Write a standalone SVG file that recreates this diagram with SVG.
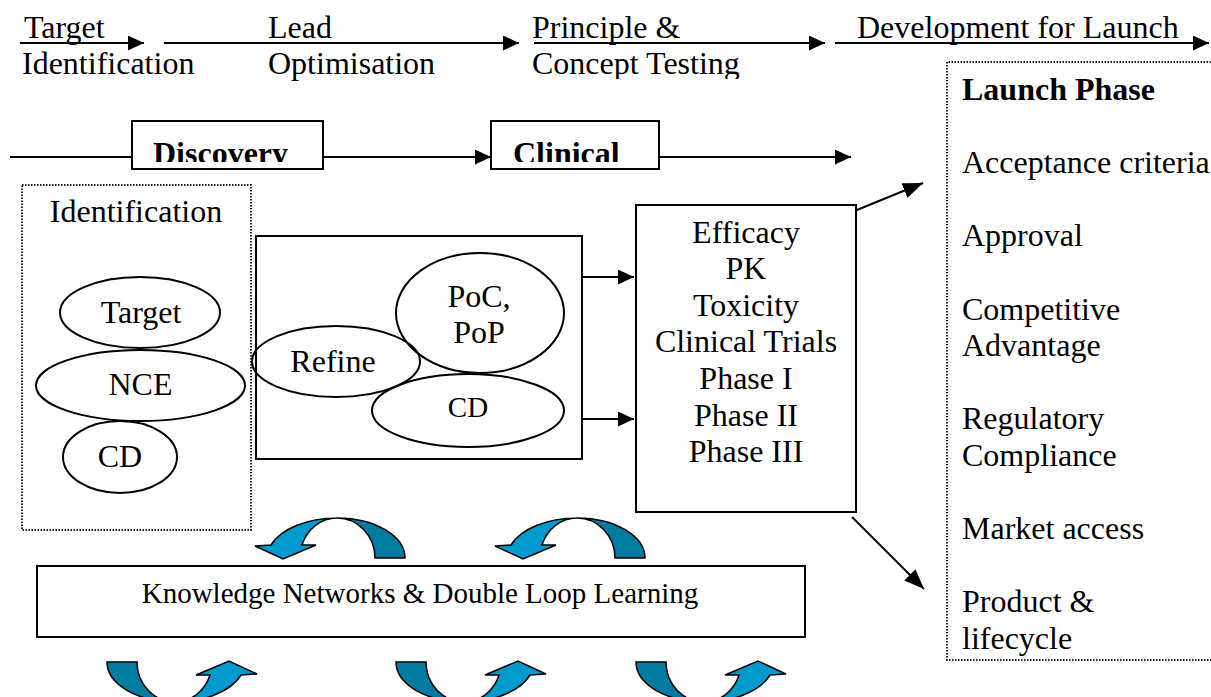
<svg xmlns="http://www.w3.org/2000/svg" xmlns:xlink="http://www.w3.org/1999/xlink" width="1211" height="697" viewBox="0 0 1211 697">
<style>
text{font-family:"Liberation Serif","Times New Roman",serif;fill:#000}
.t32{font-size:32px}
.t29{font-size:29px}
.b{font-weight:bold}
.mid{text-anchor:middle}
.box{fill:#fff;stroke:#000;stroke-width:2}
.dot{fill:none;stroke:#222;stroke-width:2;stroke-dasharray:1.5 1.5}
.ell{fill:none;stroke:#000;stroke-width:2}
.ln{fill:none;stroke:#000;stroke-width:2}
.dark{fill:#007ba0;stroke:#000;stroke-width:1.5}
.light{fill:#0099cc;stroke:#000;stroke-width:1.5}
</style>
<defs>
<marker id="ah" viewBox="0 0 16 15" refX="16" refY="7.5" markerWidth="16" markerHeight="15" markerUnits="userSpaceOnUse" orient="auto"><path d="M0,0 L16,7.5 L0,15 Z" fill="#000"/></marker>
<marker id="ah2" viewBox="0 0 20 16" refX="20" refY="8" markerWidth="20" markerHeight="16" markerUnits="userSpaceOnUse" orient="auto"><path d="M0,0 L20,8 L0,16 Z" fill="#000"/></marker>
<clipPath id="clipTop"><rect x="0" y="0" width="1211" height="79"/></clipPath>
<clipPath id="clipRow"><rect x="0" y="0" width="1211" height="162"/></clipPath>
<g id="carrow">
<path class="dark" d="M68,0 A68 40 0 0 0 0,-40 A38 40 0 0 1 38,0 Z"/>
<path class="light" d="M0,-40 A70 40 0 0 0 -66,-13 L-82,-12 L-54,1 L-21,-13 L-35,-13 A37 40 0 0 1 0,-40 Z"/>
</g>
</defs>

<g id="connectors">
<line class="ln" x1="20" y1="43" x2="144" y2="43" marker-end="url(#ah)"/>
<line class="ln" x1="164" y1="43" x2="519" y2="43" marker-end="url(#ah)"/>
<line class="ln" x1="534" y1="43" x2="825" y2="43" marker-end="url(#ah)"/>
<line class="ln" x1="835" y1="43" x2="1209" y2="43" marker-end="url(#ah)"/>
<line class="ln" x1="10" y1="157" x2="132" y2="157"/>
<line class="ln" x1="323" y1="157" x2="491" y2="157" marker-end="url(#ah)"/>
<line class="ln" x1="659" y1="157" x2="851" y2="157" marker-end="url(#ah)"/>
<line class="ln" x1="582" y1="277" x2="634" y2="277" marker-end="url(#ah)"/>
<line class="ln" x1="582" y1="419" x2="634" y2="419" marker-end="url(#ah)"/>
<line class="ln" x1="852" y1="212" x2="923" y2="183" marker-end="url(#ah2)"/>
<line class="ln" x1="852" y1="517" x2="924" y2="589" marker-end="url(#ah2)"/>
</g>

<g id="stage-labels">
<text class="t32" x="24" y="38">Target</text>
<text class="t32" x="22" y="74">Identification</text>
<text class="t32" x="268" y="38">Lead</text>
<text class="t32" x="268" y="74">Optimisation</text>
<text class="t32" x="532" y="38">Principle &amp;</text>
<text class="t32" x="532" y="74" clip-path="url(#clipTop)">Concept Testing</text>
<text class="t32" x="857" y="38">Development for Launch</text>
</g>

<g id="discovery">
<rect class="box" x="132" y="121" width="191" height="48"/>
<text class="t32 b" x="153" y="164" clip-path="url(#clipRow)">Discovery</text>
</g>
<g id="clinical">
<rect class="box" x="491" y="121" width="168" height="48"/>
<text class="t32 b" x="513" y="164" clip-path="url(#clipRow)">Clinical</text>
</g>

<g id="identification">
<rect class="dot" x="22" y="185" width="229" height="345"/>
<text class="t32 mid" x="136" y="222">Identification</text>
<ellipse class="ell" cx="140" cy="312.5" rx="80" ry="35.5"/>
<text class="t32 mid" x="141" y="323">Target</text>
<ellipse class="ell" cx="140.5" cy="385.5" rx="104.5" ry="35.5"/>
<text class="t32 mid" x="140.5" y="395">NCE</text>
<ellipse class="ell" cx="120" cy="457" rx="57" ry="36"/>
<text class="t32 mid" x="120" y="467">CD</text>
</g>

<g id="optimisation">
<rect class="box" x="256" y="236" width="326" height="223"/>
<ellipse class="ell" cx="480" cy="313" rx="84" ry="60"/>
<text class="t32 mid" x="479" y="307">PoC,</text>
<text class="t32 mid" x="479" y="343">PoP</text>
<ellipse class="ell" cx="336" cy="361.5" rx="84" ry="35.5"/>
<text class="t32 mid" x="333" y="372">Refine</text>
<ellipse class="ell" cx="468" cy="410.5" rx="96" ry="36.5"/>
<text class="t32 mid" x="468" y="417" style="font-size:29px">CD</text>
</g>

<g id="clinical-detail">
<rect class="box" x="636" y="205" width="220" height="307"/>
<text class="t32 mid" x="746" y="243">Efficacy</text>
<text class="t32 mid" x="746" y="279">PK</text>
<text class="t32 mid" x="746" y="316">Toxicity</text>
<text class="t32 mid" x="746" y="352">Clinical Trials</text>
<text class="t32 mid" x="746" y="389">Phase I</text>
<text class="t32 mid" x="746" y="426">Phase II</text>
<text class="t32 mid" x="746" y="462">Phase III</text>
</g>

<g id="launch">
<path class="dot" d="M1211,62 L947,62 L947,660 L1211,660"/>
<text class="t32 b" x="962" y="100">Launch Phase</text>
<text class="t32" x="962" y="173">Acceptance criteria</text>
<text class="t32" x="962" y="246">Approval</text>
<text class="t32" x="962" y="320">Competitive</text>
<text class="t32" x="962" y="356">Advantage</text>
<text class="t32" x="962" y="429">Regulatory</text>
<text class="t32" x="962" y="466">Compliance</text>
<text class="t32" x="962" y="539">Market access</text>
<text class="t32" x="962" y="612">Product &amp;</text>
<text class="t32" x="962" y="649">lifecycle</text>
</g>

<g id="knowledge">
<rect class="box" x="37" y="566" width="768" height="71"/>
<text class="t29 mid" x="420" y="603">Knowledge Networks &amp; Double Loop Learning</text>
</g>

<g id="loop-arrows">
<use xlink:href="#carrow" transform="translate(337,558)"/>
<use xlink:href="#carrow" transform="translate(577,558)"/>
<use xlink:href="#carrow" transform="translate(175,662) rotate(180)"/>
<use xlink:href="#carrow" transform="translate(464,662) rotate(180)"/>
<use xlink:href="#carrow" transform="translate(704,662) rotate(180)"/>
</g>
</svg>
